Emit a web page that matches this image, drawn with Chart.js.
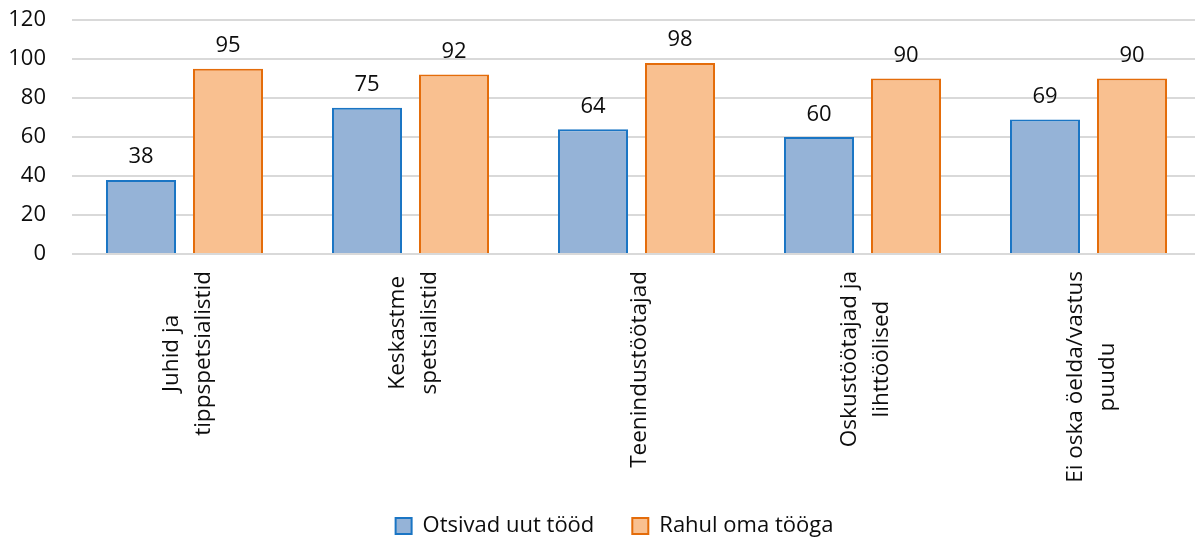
<!DOCTYPE html>
<html>
<head>
<meta charset="utf-8">
<script src="https://cdn.jsdelivr.net/npm/chart.js@4.4.1/dist/chart.umd.min.js"></script>
<style>
  html, body { margin: 0; padding: 0; background: #ffffff; overflow: hidden; }
  #wrap { position: relative; width: 1224px; height: 540px; }
</style>
</head>
<body>
<div id="wrap"><canvas id="c"></canvas></div>
<script>
const categories = [
  ["Juhid ja", "tippspetsialistid"],
  ["Keskastme", "spetsialistid"],
  ["Teenindustöötajad"],
  ["Oskustöötajad ja", "lihttöölised"],
  ["Ei oska öelda/vastus", "puudu"]
];
const seriesNames = ["Otsivad uut tööd", "Rahul oma tööga"];
const otsivadUutTood = [38, 75, 64, 60, 69];
const rahulOmaTooga = [95, 92, 98, 90, 90];
const yTicks = [0, 20, 40, 60, 80, 100, 120];

const FONT = '"Open Sans", "Noto Sans", sans-serif';
const TEXT = '#0d0d0d';

const valueLabels = {
  id: 'valueLabels',
  afterDatasetsDraw(chart) {
    const ctx = chart.ctx;
    ctx.save();
    ctx.font = '22px ' + FONT;
    ctx.fillStyle = TEXT;
    ctx.textAlign = 'center';
    ctx.textBaseline = 'alphabetic';
    chart.data.datasets.forEach((ds, di) => {
      const meta = chart.getDatasetMeta(di);
      meta.data.forEach((bar, i) => {
        ctx.fillText(String(ds.data[i]), bar.x, bar.y - 16.5);
      });
    });
    ctx.restore();
  }
};

const catLabels = {
  id: 'catLabels',
  afterDraw(chart) {
    const ctx = chart.ctx;
    const xs = chart.scales.x;
    const top = chart.chartArea.bottom + 17;
    const LH = 32;
    ctx.save();
    ctx.font = '22.5px ' + FONT;
    ctx.fillStyle = TEXT;
    ctx.textAlign = 'center';
    ctx.textBaseline = 'middle';
    categories.forEach((lines, i) => {
      const px = xs.getPixelForValue(i) + 3;
      const maxW = Math.max(...lines.map(l => ctx.measureText(l).width));
      const n = lines.length;
      ctx.save();
      ctx.translate(px, top + maxW / 2);
      ctx.rotate(-Math.PI / 2);
      lines.forEach((l, j) => ctx.fillText(l, 0, (j - (n - 1) / 2) * LH));
      ctx.restore();
    });
    ctx.restore();
  }
};

new Chart(document.getElementById('c'), {
  type: 'bar',
  data: {
    labels: categories,
    datasets: [
      {
        label: seriesNames[0],
        data: otsivadUutTood,
        backgroundColor: '#95B3D7',
        borderColor: '#1a75c4',
        borderWidth: 2
      },
      {
        label: seriesNames[1],
        data: rahulOmaTooga,
        backgroundColor: '#F9C090',
        borderColor: '#E46C0A',
        borderWidth: 2
      }
    ]
  },
  options: {
    responsive: true,
    maintainAspectRatio: false,
    animation: false,
    events: [],
    layout: { padding: { top: 20, left: 5, right: 0, bottom: 0 } },
    datasets: {
      bar: { categoryPercentage: 0.77, barPercentage: 0.805 }
    },
    scales: {
      x: {
        grid: { display: false },
        border: { display: false },
        ticks: { display: false },
        afterFit(scale) { scale.height = 223; }
      },
      y: {
        min: 0,
        max: 120,
        afterBuildTicks(scale) { scale.ticks = yTicks.map(v => ({ value: v })); },
        afterFit(scale) {
          scale.width = 66.5;
          scale.paddingTop = 13;
          scale.paddingBottom = 13;
        },
        border: { display: false },
        grid: { color: '#d9d9d9', lineWidth: 2, drawTicks: false },
        ticks: {
          padding: 25.5,
          color: TEXT,
          font: { family: FONT, size: 22 }
        }
      },
      yRightSpace: {
        position: 'right',
        display: true,
        grid: { display: false },
        border: { display: false },
        ticks: { display: false },
        afterFit(scale) {
          scale.width = 22.5;
          scale.paddingTop = 0;
          scale.paddingBottom = 0;
        }
      }
    },
    plugins: {
      tooltip: { enabled: false },
      legend: {
        position: 'bottom',
        align: 'center',
        maxHeight: 63,
        labels: {
          boxWidth: 16,
          boxHeight: 16,
          padding: 38,
          color: TEXT,
          font: { family: FONT, size: 22 }
        }
      }
    }
  },
  plugins: [valueLabels, catLabels]
});
</script>
</body>
</html>
